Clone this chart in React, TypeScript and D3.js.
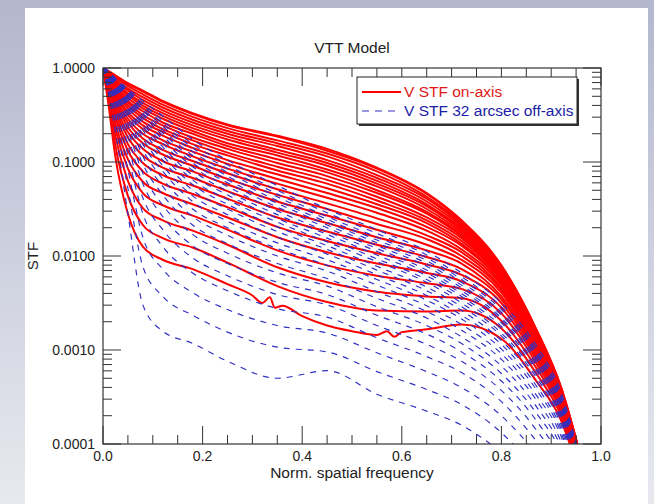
import React from "react";
import * as d3 from "d3";

// Spatial-frequency sample positions (normalised)
const freq = [0, 0.01, 0.025, 0.05, 0.08, 0.12, 0.18, 0.25, 0.35, 0.45, 0.55, 0.65, 0.72, 0.8, 0.87, 0.92, 0.965];

// Lowest on-axis curve is noisy, sampled more finely
const lowestOnAxisFreq = [0, 0.01, 0.025, 0.05, 0.08, 0.12, 0.18, 0.25, 0.3, 0.32, 0.335, 0.345, 0.36, 0.4, 0.45, 0.5, 0.55, 0.57, 0.585, 0.6, 0.65, 0.72, 0.8, 0.87, 0.92, 0.965];
const lowestOnAxisLog = [0, -0.35, -0.95, -1.55, -1.90, -2.04, -2.14, -2.30, -2.42, -2.50, -2.44, -2.55, -2.53, -2.64, -2.74, -2.80, -2.84, -2.80, -2.86, -2.81, -2.78, -2.73, -2.88, -3.33, -3.75, -4.47];

// log10(STF), V band on-axis, remaining curves (second lowest first)
const onAxisLog: number[][] = [
  [0, -0.31, -0.83, -1.36, -1.67, -1.81, -1.91, -2.07, -2.32, -2.49, -2.58, -2.59, -2.58, -2.77, -3.25, -3.70, -4.44],
  [0, -0.27, -0.73, -1.20, -1.49, -1.62, -1.73, -1.88, -2.12, -2.28, -2.38, -2.43, -2.45, -2.69, -3.19, -3.66, -4.42],
  [0, -0.24, -0.65, -1.07, -1.33, -1.46, -1.57, -1.72, -1.94, -2.10, -2.21, -2.29, -2.35, -2.61, -3.14, -3.63, -4.39],
  [0, -0.22, -0.59, -0.97, -1.21, -1.33, -1.45, -1.59, -1.80, -1.96, -2.08, -2.18, -2.27, -2.55, -3.10, -3.60, -4.38],
  [0, -0.20, -0.53, -0.88, -1.10, -1.23, -1.34, -1.48, -1.69, -1.84, -1.97, -2.09, -2.20, -2.50, -3.07, -3.58, -4.36],
  [0, -0.18, -0.49, -0.81, -1.01, -1.14, -1.25, -1.39, -1.59, -1.74, -1.88, -2.01, -2.14, -2.46, -3.04, -3.56, -4.35],
  [0, -0.16, -0.44, -0.74, -0.93, -1.06, -1.17, -1.31, -1.50, -1.65, -1.80, -1.94, -2.08, -2.43, -3.01, -3.55, -4.34],
  [0, -0.15, -0.41, -0.68, -0.86, -0.99, -1.10, -1.24, -1.42, -1.57, -1.72, -1.88, -2.04, -2.39, -2.99, -3.53, -4.33],
  [0, -0.14, -0.37, -0.63, -0.80, -0.92, -1.04, -1.18, -1.35, -1.50, -1.66, -1.82, -2.00, -2.36, -2.97, -3.52, -4.32],
  [0, -0.13, -0.35, -0.58, -0.75, -0.87, -0.99, -1.12, -1.29, -1.44, -1.60, -1.78, -1.96, -2.34, -2.95, -3.51, -4.32],
  [0, -0.12, -0.32, -0.54, -0.70, -0.81, -0.94, -1.07, -1.23, -1.38, -1.54, -1.73, -1.93, -2.31, -2.93, -3.50, -4.31],
  [0, -0.11, -0.29, -0.50, -0.65, -0.77, -0.89, -1.02, -1.18, -1.33, -1.49, -1.69, -1.89, -2.29, -2.92, -3.49, -4.30],
  [0, -0.10, -0.27, -0.47, -0.61, -0.72, -0.85, -0.98, -1.13, -1.28, -1.45, -1.65, -1.87, -2.27, -2.90, -3.48, -4.30],
  [0, -0.09, -0.25, -0.43, -0.57, -0.68, -0.81, -0.93, -1.09, -1.23, -1.41, -1.62, -1.84, -2.25, -2.89, -3.47, -4.29],
  [0, -0.09, -0.23, -0.40, -0.53, -0.65, -0.77, -0.90, -1.05, -1.19, -1.37, -1.59, -1.81, -2.24, -2.88, -3.46, -4.29],
  [0, -0.08, -0.21, -0.37, -0.50, -0.61, -0.74, -0.86, -1.01, -1.15, -1.33, -1.55, -1.79, -2.22, -2.86, -3.45, -4.28],
  [0, -0.07, -0.20, -0.35, -0.46, -0.58, -0.70, -0.83, -0.97, -1.11, -1.30, -1.53, -1.77, -2.20, -2.85, -3.45, -4.28],
  [0, -0.07, -0.18, -0.32, -0.43, -0.54, -0.67, -0.80, -0.93, -1.08, -1.26, -1.50, -1.75, -2.19, -2.84, -3.44, -4.28],
  [0, -0.06, -0.16, -0.29, -0.40, -0.51, -0.64, -0.76, -0.90, -1.04, -1.23, -1.47, -1.73, -2.18, -2.83, -3.43, -4.27],
  [0, -0.06, -0.15, -0.27, -0.37, -0.48, -0.61, -0.73, -0.87, -1.01, -1.20, -1.45, -1.71, -2.16, -2.82, -3.43, -4.27],
  [0, -0.05, -0.13, -0.24, -0.34, -0.45, -0.58, -0.70, -0.83, -0.98, -1.17, -1.42, -1.69, -2.15, -2.81, -3.42, -4.26],
  [0, -0.04, -0.12, -0.22, -0.31, -0.42, -0.55, -0.67, -0.80, -0.94, -1.14, -1.39, -1.67, -2.13, -2.80, -3.42, -4.26],
  [0, -0.04, -0.10, -0.19, -0.28, -0.39, -0.52, -0.64, -0.77, -0.91, -1.10, -1.37, -1.65, -2.12, -2.79, -3.41, -4.26],
  [0, -0.03, -0.08, -0.17, -0.25, -0.36, -0.49, -0.61, -0.73, -0.88, -1.07, -1.34, -1.63, -2.11, -2.78, -3.40, -4.25],
  [0, -0.03, -0.08, -0.16, -0.24, -0.35, -0.48, -0.60, -0.72, -0.86, -1.06, -1.33, -1.62, -2.10, -2.78, -3.40, -4.25],
];

// log10(STF), V band 32 arcsec off-axis, lowest curve first
const offAxisLog: number[][] = [
  [0, -0.25, -0.68, -1.55, -2.52, -2.80, -2.93, -3.12, -3.30, -3.22, -3.47, -3.65, -3.80, -4.10, -4.50, -4.85, -5.50],
  [0, -0.20, -0.56, -1.28, -2.11, -2.43, -2.63, -2.81, -2.97, -3.02, -3.23, -3.42, -3.58, -3.88, -4.29, -4.66, -5.33],
  [0, -0.17, -0.48, -1.08, -1.80, -2.14, -2.39, -2.57, -2.74, -2.82, -3.03, -3.23, -3.40, -3.70, -4.11, -4.50, -5.20],
  [0, -0.14, -0.41, -0.93, -1.55, -1.90, -2.18, -2.37, -2.56, -2.65, -2.87, -3.07, -3.24, -3.55, -3.97, -4.37, -5.09],
  [0, -0.12, -0.36, -0.82, -1.38, -1.72, -2.02, -2.21, -2.41, -2.52, -2.74, -2.94, -3.12, -3.43, -3.85, -4.26, -5.00],
  [0, -0.11, -0.33, -0.73, -1.23, -1.58, -1.89, -2.08, -2.28, -2.41, -2.63, -2.83, -3.02, -3.33, -3.75, -4.18, -4.92],
  [0, -0.10, -0.30, -0.66, -1.12, -1.46, -1.77, -1.97, -2.18, -2.32, -2.54, -2.74, -2.93, -3.25, -3.67, -4.10, -4.86],
  [0, -0.09, -0.27, -0.60, -1.02, -1.35, -1.67, -1.87, -2.08, -2.24, -2.45, -2.66, -2.86, -3.17, -3.60, -4.04, -4.80],
  [0, -0.08, -0.25, -0.55, -0.94, -1.26, -1.58, -1.78, -2.00, -2.16, -2.38, -2.59, -2.79, -3.10, -3.53, -3.98, -4.75],
  [0, -0.07, -0.23, -0.51, -0.87, -1.18, -1.50, -1.70, -1.92, -2.10, -2.31, -2.53, -2.73, -3.04, -3.48, -3.92, -4.71],
  [0, -0.07, -0.22, -0.47, -0.81, -1.10, -1.42, -1.63, -1.86, -2.04, -2.25, -2.47, -2.67, -2.99, -3.42, -3.88, -4.67],
  [0, -0.06, -0.20, -0.44, -0.75, -1.04, -1.36, -1.56, -1.80, -1.98, -2.20, -2.42, -2.63, -2.94, -3.38, -3.84, -4.63],
  [0, -0.06, -0.19, -0.41, -0.71, -0.98, -1.30, -1.50, -1.74, -1.93, -2.15, -2.37, -2.58, -2.90, -3.33, -3.80, -4.60],
  [0, -0.06, -0.18, -0.39, -0.66, -0.93, -1.24, -1.45, -1.69, -1.89, -2.11, -2.33, -2.54, -2.85, -3.29, -3.76, -4.57],
  [0, -0.05, -0.17, -0.37, -0.62, -0.88, -1.19, -1.40, -1.64, -1.85, -2.06, -2.28, -2.50, -2.82, -3.26, -3.73, -4.54],
  [0, -0.05, -0.16, -0.35, -0.59, -0.84, -1.14, -1.35, -1.60, -1.81, -2.03, -2.25, -2.46, -2.78, -3.22, -3.70, -4.51],
  [0, -0.05, -0.16, -0.33, -0.56, -0.80, -1.09, -1.31, -1.56, -1.77, -1.99, -2.21, -2.43, -2.75, -3.19, -3.67, -4.48],
  [0, -0.04, -0.15, -0.31, -0.53, -0.76, -1.05, -1.26, -1.52, -1.74, -1.95, -2.18, -2.40, -2.71, -3.16, -3.64, -4.46],
  [0, -0.04, -0.14, -0.30, -0.50, -0.72, -1.01, -1.22, -1.48, -1.70, -1.92, -2.15, -2.37, -2.68, -3.13, -3.61, -4.44],
  [0, -0.04, -0.14, -0.29, -0.48, -0.69, -0.97, -1.19, -1.44, -1.67, -1.89, -2.11, -2.34, -2.66, -3.10, -3.59, -4.42],
  [0, -0.04, -0.13, -0.27, -0.45, -0.66, -0.93, -1.15, -1.41, -1.64, -1.86, -2.08, -2.31, -2.63, -3.07, -3.56, -4.39],
  [0, -0.04, -0.13, -0.26, -0.43, -0.62, -0.89, -1.11, -1.37, -1.61, -1.83, -2.05, -2.28, -2.60, -3.04, -3.54, -4.37],
  [0, -0.03, -0.12, -0.25, -0.40, -0.59, -0.85, -1.07, -1.34, -1.58, -1.80, -2.02, -2.25, -2.57, -3.02, -3.51, -4.35],
  [0, -0.03, -0.12, -0.24, -0.38, -0.56, -0.81, -1.03, -1.30, -1.54, -1.76, -1.99, -2.22, -2.54, -2.99, -3.49, -4.33],
  [0, -0.03, -0.11, -0.22, -0.35, -0.51, -0.76, -0.98, -1.25, -1.50, -1.72, -1.95, -2.18, -2.50, -2.95, -3.45, -4.30],
];

const xTickLabels = ["0.0", "0.2", "0.4", "0.6", "0.8", "1.0"];
const xTickValues = [0, 0.2, 0.4, 0.6, 0.8, 1.0];
const yTickLabels = ["1.0000", "0.1000", "0.0100", "0.0010", "0.0001"];
const yTickValues = [1, 0.1, 0.01, 0.001, 0.0001];
const legendLabels = ["V STF on-axis", "V STF 32 arcsec off-axis"];

const W = 654;
const H = 504;
const L = 103, R = 601, T = 68, B = 444;
const FONT = "'Liberation Sans', Arial, Helvetica, sans-serif";
const RED = "#ff0000";
const BLUE = "#2f2fc4";

export default function App() {
  const x = d3.scaleLinear().domain([0, 1]).range([L, R]);
  const y = d3.scaleLog().domain([1e-4, 1]).range([B, T]);
  const makeLine = (fx: number[]) =>
    d3
      .line<number>()
      .x((_, i) => x(fx[i]))
      .y((v) => y(Math.pow(10, v)))
      .curve(d3.curveMonotoneX);
  const line = makeLine(freq);
  const lowLine = makeLine(lowestOnAxisFreq);

  const xMinor = d3.range(0, 1.0001, 0.05).filter((v) => Math.abs(v * 5 - Math.round(v * 5)) > 1e-6);
  const yMinor: number[] = [];
  for (let e = -4; e < 0; e++) for (let m = 2; m <= 9; m++) yMinor.push(m * Math.pow(10, e));

  const MAJ = 18, MIN = 9;
  const axisColor = "#333";

  return (
    <div style={{ position: "absolute", left: 0, top: 0, width: W, height: H }}>
      <svg width={W} height={H} style={{ display: "block" }}>
        <defs>
          <linearGradient id="bg" x1="0" y1="0" x2="0" y2="1">
            <stop offset="0" stopColor="#b2b7ce" />
            <stop offset="1" stopColor="#e8e9ef" />
          </linearGradient>
          <clipPath id="plotclip">
            <rect x={L} y={T} width={R - L} height={B - T} />
          </clipPath>
        </defs>
        <rect x={0} y={0} width={W} height={H} fill="url(#bg)" />
        <rect x={0} y={0} width={W} height={8} fill="#b3b8cf" />
        <rect x={25} y={8} width={623} height={H - 8} fill="#ffffff" />

        <text x={352} y={53} textAnchor="middle" fontFamily={FONT} fontSize={15.5} fill="#222">VTT Model</text>

        <g clipPath="url(#plotclip)">
          <path d={lowLine(lowestOnAxisLog) || ""} fill="none" stroke={RED} strokeWidth={2} />
          {onAxisLog.map((s, i) => (
            <path key={"r" + i} d={line(s) || ""} fill="none" stroke={RED} strokeWidth={2} />
          ))}
          {offAxisLog.map((s, i) => (
            <path key={"b" + i} d={line(s) || ""} fill="none" stroke={BLUE} strokeWidth={1.15} strokeDasharray="6,6" />
          ))}
        </g>

        {/* axes box */}
        <rect x={L} y={T} width={R - L} height={B - T} fill="none" stroke={axisColor} strokeWidth={1.2} />
        {xTickValues.map((v) => (
          <g key={"xt" + v}>
            <line x1={x(v)} x2={x(v)} y1={B} y2={B - MAJ} stroke={axisColor} />
            <line x1={x(v)} x2={x(v)} y1={T} y2={T + MAJ} stroke={axisColor} />
          </g>
        ))}
        {xMinor.map((v) => (
          <g key={"xm" + v}>
            <line x1={x(v)} x2={x(v)} y1={B} y2={B - MIN} stroke={axisColor} />
            <line x1={x(v)} x2={x(v)} y1={T} y2={T + MIN} stroke={axisColor} />
          </g>
        ))}
        {yTickValues.map((v) => (
          <g key={"yt" + v}>
            <line x1={L} x2={L + MAJ} y1={y(v)} y2={y(v)} stroke={axisColor} />
            <line x1={R} x2={R - MAJ} y1={y(v)} y2={y(v)} stroke={axisColor} />
          </g>
        ))}
        {yMinor.map((v) => (
          <g key={"ym" + v}>
            <line x1={L} x2={L + MIN} y1={y(v)} y2={y(v)} stroke={axisColor} />
            <line x1={R} x2={R - MIN} y1={y(v)} y2={y(v)} stroke={axisColor} />
          </g>
        ))}

        {xTickValues.map((v, i) => (
          <text key={"xl" + i} x={x(v)} y={B + 17} textAnchor="middle" fontFamily={FONT} fontSize={14} fill="#222">
            {xTickLabels[i]}
          </text>
        ))}
        {yTickValues.map((v, i) => (
          <text key={"yl" + i} x={L - 8} y={y(v) + 5} textAnchor="end" fontFamily={FONT} fontSize={14} fill="#222">
            {yTickLabels[i]}
          </text>
        ))}
        <text x={352} y={478} textAnchor="middle" fontFamily={FONT} fontSize={15.5} fill="#222">Norm. spatial frequency</text>
        <text transform={`translate(38,${(T + B) / 2}) rotate(-90)`} textAnchor="middle" fontFamily={FONT} fontSize={15} fill="#222">STF</text>

        {/* legend */}
        <g>
          <rect x={359} y={79} width={220} height={47} fill="#333" />
          <rect x={357} y={77} width={220} height={47} fill="#fff" stroke="#222" strokeWidth={1} />
          <line x1={362} x2={401} y1={92} y2={92} stroke={RED} strokeWidth={2} />
          <text x={404} y={97} fontFamily={FONT} fontSize={15.5} fill="#e01818">{legendLabels[0]}</text>
          <line x1={362} x2={401} y1={111} y2={111} stroke={BLUE} strokeWidth={1.2} strokeDasharray="7,6" />
          <text x={404} y={116} fontFamily={FONT} fontSize={15.5} fill="#1c1ca8">{legendLabels[1]}</text>
        </g>
      </svg>
    </div>
  );
}
